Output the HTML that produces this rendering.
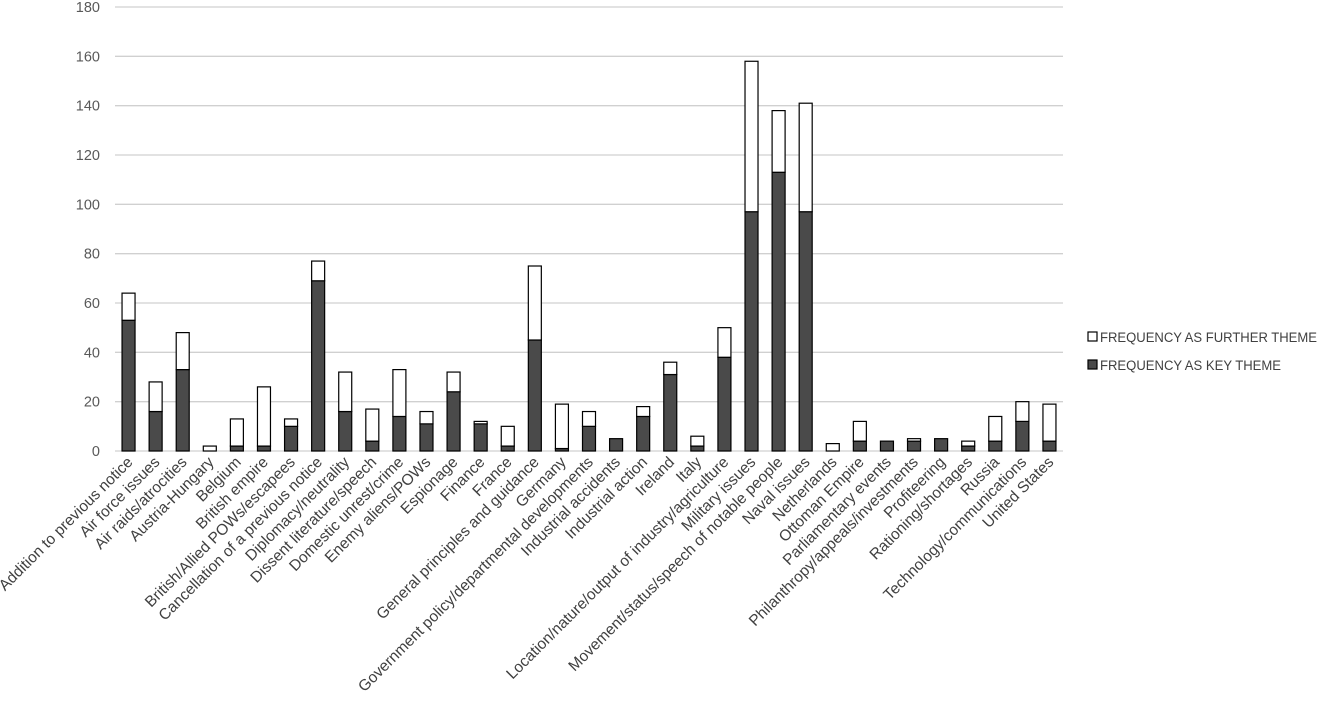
<!DOCTYPE html>
<html><head><meta charset="utf-8"><style>
html,body{margin:0;padding:0;background:#fff;}
svg{display:block;font-family:"Liberation Sans",sans-serif;}
</style></head><body>
<svg id="chart" width="1320" height="701"></svg>
<script>
const categories = ["Addition to previous notice","Air force issues","Air raids/atrocities","Austria-Hungary","Belgium","British empire","British/Allied POWs/escapees","Cancellation of a previous notice","Diplomacy/neutrality","Dissent literature/speech","Domestic unrest/crime","Enemy aliens/POWs","Espionage","Finance","France","General principles and guidance","Germany","Government policy/departmental developments","Industrial accidents","Industrial action","Ireland","Italy","Location/nature/output of industry/agriculture","Military issues","Movement/status/speech of notable people","Naval issues","Netherlands","Ottoman Empire","Parliamentary events","Philanthropy/appeals/investments","Profiteering","Rationing/shortages","Russia","Technology/communications","United States"];
const keyTheme = [53,16,33,0,2,2,10,69,16,4,14,11,24,11,2,45,1,10,5,14,31,2,38,97,113,97,0,4,4,4,5,2,4,12,4];
const furtherTheme = [11,12,15,2,11,24,3,8,16,13,19,5,8,1,8,30,18,6,0,4,5,4,12,61,25,44,3,8,0,1,0,2,10,8,15];
const yTicks = [0,20,40,60,80,100,120,140,160,180];

const NS="http://www.w3.org/2000/svg";
const svg=document.getElementById('chart');
function mk(t,a,p){const e=document.createElementNS(NS,t);for(const k in a)e.setAttribute(k,a[k]);(p||svg).appendChild(e);return e;}
const x0=115,x1=1063,y0=451,yTop=7,yMax=180;
const yS=v=>y0-(v/yMax)*(y0-yTop);
const step=(x1-x0)/categories.length;
const xC=i=>x0+step*(i+0.5);
const bw=13;

yTicks.forEach(t=>{
  const l=mk('line',{x1:x0,x2:x1,y1:yS(t),y2:yS(t),stroke:'#d0d0d0','stroke-width':1.3});
  
  
  const tx=mk('text',{x:100,y:yS(t)+5,'text-anchor':'end','font-size':14.5,fill:'#595959'});
  tx.textContent=t;
  
  
});

categories.forEach((c,i)=>{
  const cx=xC(i);
  const k=keyTheme[i],f=furtherTheme[i];
  if(k>0){
    const r=mk('rect',{x:cx-bw/2,y:yS(k),width:bw,height:y0-yS(k),fill:'#4a4a4a',stroke:'#000','stroke-width':1.2});
    
    
  }
  if(f>0){
    const r=mk('rect',{x:cx-bw/2,y:yS(k+f),width:bw,height:yS(k)-yS(k+f),fill:'#fff',stroke:'#000','stroke-width':1.2});
    
    
  }
  const tx=mk('text',{x:cx+5,y:463,'text-anchor':'end','font-size':15.5,fill:'#404040',transform:`rotate(-45 ${cx+5} 463)`});
  tx.textContent=c;
  
  
});

const legend=[["FREQUENCY AS FURTHER THEME","#fff",337,217],["FREQUENCY AS KEY THEME","#4a4a4a",365,181]];
legend.forEach(([t,col,y,w])=>{
  const g=mk('g',{});
  
  
  mk('rect',{x:1088,y:y-5,width:9,height:9,fill:col,stroke:'#000','stroke-width':1.2},g);
  const tx=mk('text',{x:1100,y:y+5,'font-size':13.5,fill:'#404040',textLength:w,lengthAdjust:'spacingAndGlyphs'},g);
  tx.textContent=t;
});
</script>
</body></html>
